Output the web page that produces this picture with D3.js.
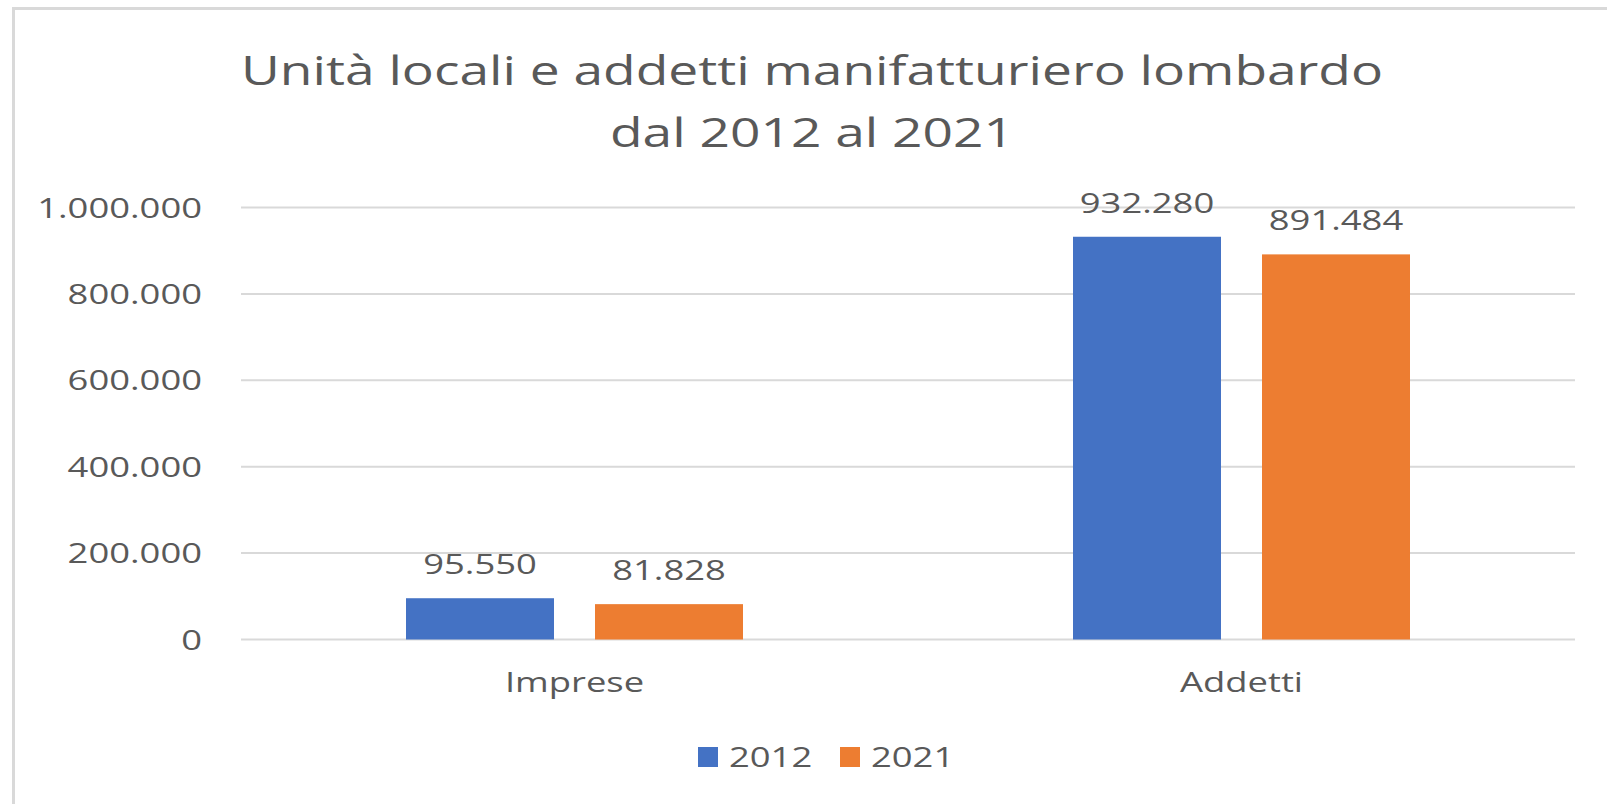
<!DOCTYPE html>
<html>
<head>
<meta charset="utf-8">
<script src="https://cdn.jsdelivr.net/npm/d3@7"></script>
<style>
  html, body { margin: 0; padding: 0; background: #fff; }
  svg { display: block; }
  text { font-family: "Open Sans", "DejaVu Sans", sans-serif; fill: #595959; }
</style>
</head>
<body>
<svg id="chart" width="1607" height="804"></svg>
<script>
// Data
const categories = ["Imprese", "Addetti"];
const seriesNames = ["2012", "2021"];
const values2012 = [95550, 932280];
const values2021 = [81828, 891484];
const yTicks = [0, 200000, 400000, 600000, 800000, 1000000];
const titleLines = ["Unità locali e addetti manifatturiero lombardo", "dal 2012 al 2021"];

const colors = { "2012": "#4472C4", "2021": "#ED7D31" };
const seriesValues = { "2012": values2012, "2021": values2021 };

const W = 1607, H = 804;
const SX = 1.3; // horizontal text stretch
const svg = d3.select("#chart");

// Italian-style thousands separator
const fmt = d3.formatLocale({ decimal: ",", thousands: ".", grouping: [3], currency: ["€", ""] }).format(",");

function stretchedText(sel, x, y) {
  return sel.attr("transform", `translate(${x},${y}) scale(${SX},1)`);
}

// Chart frame
svg.append("path")
  .attr("d", `M13.5,${H + 2} V8.5 H${W + 2}`)
  .attr("fill", "none")
  .attr("stroke", "#d9d9d9")
  .attr("stroke-width", 3);

// Title
titleLines.forEach((line, i) => {
  stretchedText(svg.append("text"), 812, 85 + i * 62)
    .attr("text-anchor", "middle")
    .attr("font-size", 41)
    .text(line);
});

// Scales
const plot = { left: 241, right: 1575, top: 207.5, bottom: 639.5 };
const y = d3.scaleLinear().domain([0, 1000000]).range([plot.bottom, plot.top]);
const x0 = d3.scaleBand().domain(categories).range([plot.left, plot.right]).padding(0);
const x1 = d3.scaleBand().domain(seriesNames)
  .range([165, x0.bandwidth() - 165]).paddingInner(0.217).paddingOuter(0);

// Gridlines
const yAxis = d3.axisLeft(y).tickValues(yTicks).tickSize(0).tickFormat("");
const grid = svg.append("g").attr("transform", `translate(${plot.left},0)`);
grid.selectAll("line.grid").data(yTicks).enter().append("line")
  .attr("class", "grid")
  .attr("x1", 0).attr("x2", plot.right - plot.left)
  .attr("y1", d => y(d)).attr("y2", d => y(d))
  .attr("stroke", "#d9d9d9").attr("stroke-width", 2);
grid.call(yAxis).select(".domain").remove();

// Y tick labels
svg.append("g").selectAll("text").data(yTicks).enter().append("text")
  .each(function (d) { stretchedText(d3.select(this), 202, y(d) + 10); })
  .attr("text-anchor", "end")
  .attr("font-size", 28)
  .text(d => fmt(d));

// Bars
const groups = svg.append("g").selectAll("g").data(categories).enter().append("g")
  .attr("transform", d => `translate(${x0(d)},0)`);

groups.selectAll("rect")
  .data((c, ci) => seriesNames.map(s => ({ s, v: seriesValues[s][ci] })))
  .enter().append("rect")
  .attr("x", d => x1(d.s))
  .attr("width", x1.bandwidth())
  .attr("y", d => y(d.v))
  .attr("height", d => y(0) - y(d.v))
  .attr("fill", d => colors[d.s]);

// Value labels
groups.selectAll("text.val")
  .data((c, ci) => seriesNames.map(s => ({ s, v: seriesValues[s][ci] })))
  .enter().append("text")
  .attr("class", "val")
  .each(function (d) { stretchedText(d3.select(this), x1(d.s) + x1.bandwidth() / 2, y(d.v) - 24); })
  .attr("text-anchor", "middle")
  .attr("font-size", 28)
  .text(d => fmt(d.v));

// Category labels
svg.append("g").selectAll("text").data(categories).enter().append("text")
  .each(function (d) { stretchedText(d3.select(this), x0(d) + x0.bandwidth() / 2, 692); })
  .attr("text-anchor", "middle")
  .attr("font-size", 28)
  .text(d => d);

// Legend
const legendX = { "2012": 698, "2021": 840 };
const legend = svg.append("g");
seriesNames.forEach(s => {
  legend.append("rect")
    .attr("x", legendX[s]).attr("y", 747)
    .attr("width", 20).attr("height", 20)
    .attr("fill", colors[s]);
  stretchedText(legend.append("text"), legendX[s] + 31, 767)
    .attr("font-size", 28)
    .text(s);
});
</script>
</body>
</html>
